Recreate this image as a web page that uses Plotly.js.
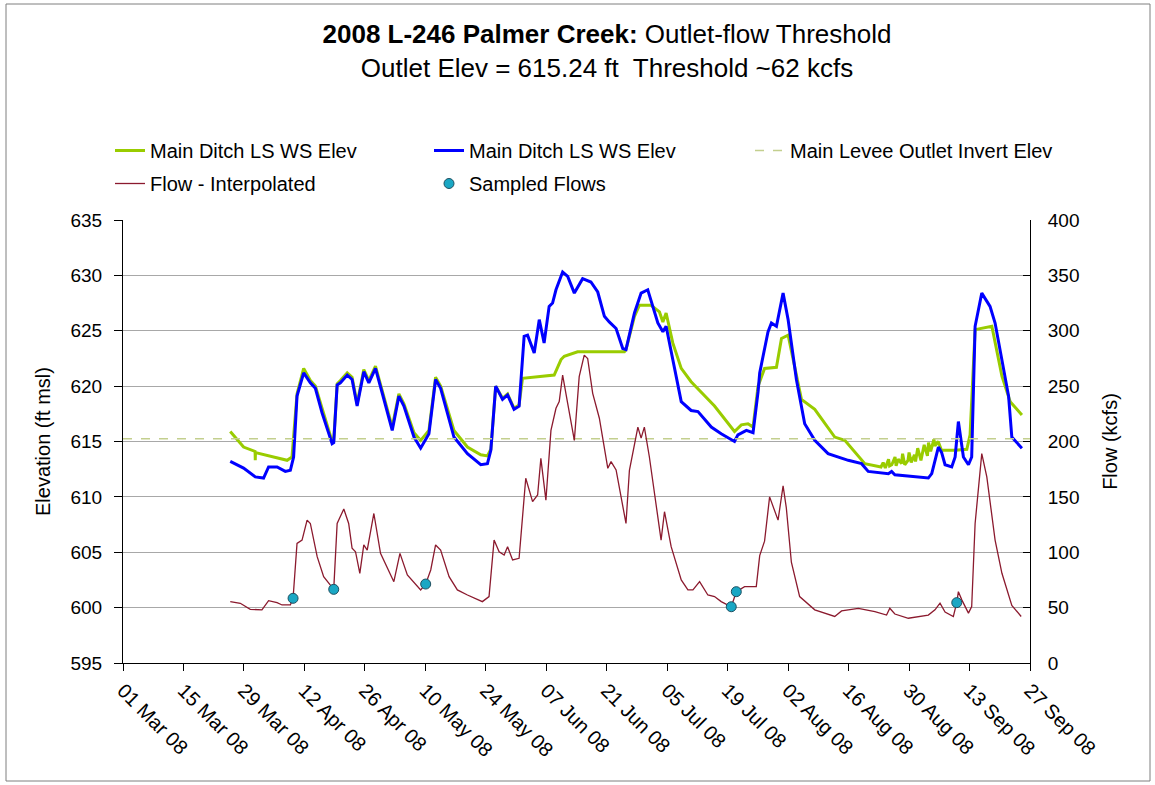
<!DOCTYPE html>
<html>
<head>
<meta charset="utf-8">
<script src="https://cdn.plot.ly/plotly-3.0.1.min.js"></script>
<style>html,body{margin:0;padding:0;background:#fff;}#chart{width:1155px;height:785px;}</style>
</head>
<body>
<div id="chart"></div>
<script>
// ---------- DATA ----------
const greenDates = [
"2008-03-25 20:00","2008-03-28 22:00","2008-03-31 14:00","2008-03-31 15:00","2008-03-31 16:00","2008-04-08 00:00","2008-04-09 03:00",
"2008-04-10 07:00","2008-04-11 20:00","2008-04-13 09:00","2008-04-14 13:00","2008-04-16 02:00","2008-04-18 10:00","2008-04-18 19:00",
"2008-04-19 14:00","2008-04-20 08:00","2008-04-21 22:00","2008-04-23 01:00","2008-04-24 05:00","2008-04-25 18:00","2008-04-26 22:00",
"2008-04-28 11:00","2008-04-30 00:00","2008-05-02 08:00","2008-05-03 21:00","2008-05-05 01:00","2008-05-07 09:00","2008-05-08 22:00",
"2008-05-10 20:00","2008-05-12 09:00","2008-05-13 13:00","2008-05-16 15:00","2008-05-19 18:00","2008-05-22 20:00","2008-05-24 09:00",
"2008-05-25 04:00","2008-05-26 07:00","2008-05-27 21:00","2008-05-29 01:00","2008-05-30 13:00","2008-05-31 17:00","2008-06-01 12:00",
"2008-06-08 20:00","2008-06-10 10:00","2008-06-11 04:00","2008-06-14 06:00","2008-06-25 02:00","2008-06-25 11:00","2008-06-27 10:00",
"2008-06-28 13:00","2008-07-01 06:00","2008-07-03 05:00","2008-07-04 00:00","2008-07-04 18:00","2008-07-06 07:00","2008-07-08 06:00",
"2008-07-10 13:00","2008-07-15 23:00","2008-07-20 14:00","2008-07-22 04:00","2008-07-23 17:00","2008-07-24 21:00","2008-07-26 01:00",
"2008-07-27 13:00","2008-07-30 07:00","2008-07-31 11:00","2008-08-02 00:00","2008-08-03 22:00","2008-08-05 02:00","2008-08-08 04:00",
"2008-08-12 19:00","2008-08-15 03:00","2008-08-19 18:00",
"2008-08-23 12:00","2008-08-24 00:00","2008-08-24 12:00","2008-08-25 06:00","2008-08-25 12:00","2008-08-26 00:00","2008-08-26 18:00",
"2008-08-27 00:00","2008-08-27 12:00","2008-08-28 06:00","2008-08-28 12:00","2008-08-29 00:00","2008-08-29 18:00","2008-08-30 00:00",
"2008-08-30 12:00","2008-08-31 06:00","2008-08-31 12:00","2008-09-01 00:00","2008-09-01 18:00","2008-09-02 00:00","2008-09-02 12:00",
"2008-09-03 06:00","2008-09-03 12:00","2008-09-04 00:00","2008-09-04 18:00","2008-09-05 00:00","2008-09-05 18:00","2008-09-06 12:00",
"2008-09-09 16:00","2008-09-12 09:00","2008-09-13 03:00","2008-09-14 07:00","2008-09-15 20:00","2008-09-18 04:00","2008-09-20 12:00",
"2008-09-22 10:00","2008-09-25 03:00"
];
const greenElev = [
615.9,614.5,614.1,613.3,614.0,613.3,613.6,
619.3,621.6,620.5,620.0,618.0,615.0,615.1,
620.2,620.5,621.2,620.8,618.4,621.5,620.5,
621.8,619.7,616.3,619.3,618.4,615.8,615.1,
616.0,620.8,620.0,616.0,614.5,613.8,613.7,
614.3,620.0,618.9,619.3,618.0,618.3,620.7,
621.0,622.4,622.7,623.1,623.1,623.3,626.3,
627.3,627.3,626.7,625.8,626.6,623.9,621.6,
620.4,618.2,615.9,616.5,616.6,616.3,620.0,
621.6,621.7,624.3,624.6,620.9,618.8,617.9,
615.4,615.1,613.0,
612.7,613.1,612.6,613.4,612.8,612.9,613.6,
612.8,613.4,613.0,613.9,612.9,613.3,614.0,
613.1,613.8,613.2,614.4,613.3,613.9,614.7,
613.7,614.9,614.1,615.2,614.6,615.0,614.2,
614.2,614.3,615.6,625.1,625.2,625.4,620.9,
618.6,617.4
];

const blueDates = [
"2008-03-25 20:00","2008-03-28 22:00","2008-03-31 15:00","2008-04-02 13:00","2008-04-03 17:00","2008-04-05 16:00","2008-04-07 14:00",
"2008-04-08 18:00","2008-04-09 12:00","2008-04-10 07:00","2008-04-11 20:00","2008-04-13 09:00","2008-04-14 13:00","2008-04-16 02:00",
"2008-04-18 10:00","2008-04-18 19:00","2008-04-19 14:00","2008-04-20 08:00","2008-04-21 22:00","2008-04-23 01:00","2008-04-24 05:00",
"2008-04-25 18:00","2008-04-26 22:00","2008-04-28 11:00","2008-04-30 00:00","2008-05-02 08:00","2008-05-03 21:00","2008-05-05 01:00",
"2008-05-07 09:00","2008-05-08 22:00","2008-05-10 20:00","2008-05-12 09:00","2008-05-13 13:00","2008-05-16 15:00","2008-05-19 18:00",
"2008-05-22 20:00","2008-05-24 09:00","2008-05-25 04:00","2008-05-26 07:00","2008-05-27 21:00","2008-05-29 01:00","2008-05-30 13:00",
"2008-05-31 17:00","2008-06-01 21:00","2008-06-02 16:00","2008-06-04 05:00","2008-06-05 09:00","2008-06-06 12:00","2008-06-07 16:00",
"2008-06-08 11:00","2008-06-09 06:00","2008-06-10 19:00","2008-06-11 23:00","2008-06-13 12:00","2008-06-15 10:00","2008-06-17 08:00",
"2008-06-18 22:00","2008-06-20 11:00","2008-06-21 14:00","2008-06-23 04:00","2008-06-24 17:00","2008-06-25 11:00","2008-06-27 10:00",
"2008-06-28 23:00","2008-06-30 12:00","2008-07-01 06:00","2008-07-02 20:00","2008-07-04 00:00","2008-07-04 18:00","2008-07-06 07:00",
"2008-07-08 06:00","2008-07-10 13:00","2008-07-12 03:00","2008-07-15 05:00","2008-07-17 12:00","2008-07-20 14:00","2008-07-21 09:00",
"2008-07-23 08:00","2008-07-24 21:00","2008-07-26 01:00","2008-07-26 10:00","2008-07-28 08:00","2008-07-29 03:00","2008-07-30 07:00",
"2008-07-31 20:00","2008-08-02 00:00","2008-08-03 22:00","2008-08-05 20:00","2008-08-08 04:00","2008-08-11 06:00","2008-08-15 22:00",
"2008-08-19 00:00","2008-08-20 13:00","2008-08-25 05:00","2008-08-25 23:00","2008-08-26 17:00","2008-08-31 09:00","2008-09-03 11:00",
"2008-09-04 06:00","2008-09-05 19:00","2008-09-06 13:00","2008-09-07 08:00","2008-09-08 21:00","2008-09-09 16:00","2008-09-10 10:00",
"2008-09-11 14:00","2008-09-12 18:00","2008-09-13 12:00","2008-09-14 07:00","2008-09-15 20:00","2008-09-17 18:00","2008-09-18 22:00",
"2008-09-22 01:00","2008-09-22 19:00","2008-09-25 03:00"
];
const blueElev = [
613.2,612.6,611.8,611.7,612.7,612.7,612.3,
612.4,613.6,619.1,621.2,620.3,619.8,617.6,
614.8,614.9,620.1,620.3,621.0,620.6,618.2,
621.3,620.3,621.6,619.4,616.0,619.1,618.2,
615.4,614.4,615.7,620.6,619.8,615.4,613.9,
612.9,613.0,614.2,620.0,618.8,619.2,617.9,
618.2,624.5,624.6,623.0,626.0,623.9,627.2,
627.5,628.7,630.3,629.9,628.4,629.7,629.4,
628.5,626.3,625.8,625.2,623.4,623.3,626.6,
628.4,628.7,627.8,625.7,624.9,625.4,622.4,
618.6,617.8,617.7,616.3,615.7,615.0,615.6,
616.0,615.8,619.5,621.2,624.9,625.7,625.4,
628.4,626.0,620.6,616.6,615.1,613.9,613.3,
613.0,612.3,612.1,612.3,612.0,611.8,611.7,
612.1,614.5,614.0,612.9,612.7,613.6,616.8,
613.6,612.9,613.6,625.4,628.4,627.2,625.7,
619.1,615.4,614.4
];

const outletDates = ["2008-03-01","2008-09-27"];
const outletElev = [615.24, 615.24];

const flowDates = [
"2008-03-25 20:00","2008-03-28 04:00","2008-03-30 11:00","2008-04-02 04:00","2008-04-03 17:00","2008-04-05 16:00","2008-04-06 20:00",
"2008-04-08 18:00","2008-04-09 09:00","2008-04-10 07:00","2008-04-11 11:00","2008-04-12 15:00","2008-04-13 09:00","2008-04-14 23:00",
"2008-04-16 11:00","2008-04-18 19:00","2008-04-19 14:00","2008-04-21 03:00","2008-04-22 06:00","2008-04-23 01:00","2008-04-23 20:00",
"2008-04-24 20:00","2008-04-25 18:00","2008-04-26 13:00","2008-04-28 02:00","2008-04-29 15:00","2008-05-02 17:00","2008-05-04 03:00",
"2008-05-05 20:00","2008-05-08 22:00","2008-05-10 02:00","2008-05-11 06:00","2008-05-12 09:00","2008-05-13 13:00","2008-05-15 12:00",
"2008-05-17 10:00","2008-05-19 18:00","2008-05-23 05:00","2008-05-24 18:00","2008-05-25 22:00","2008-05-27 02:00","2008-05-28 06:00",
"2008-05-29 01:00","2008-05-30 05:00","2008-05-31 17:00","2008-06-01 21:00","2008-06-02 06:00","2008-06-03 20:00","2008-06-05 00:00",
"2008-06-05 18:00","2008-06-06 22:00","2008-06-08 02:00","2008-06-09 06:00","2008-06-10 00:00","2008-06-10 19:00","2008-06-11 23:00",
"2008-06-13 12:00","2008-06-14 15:00","2008-06-15 19:00","2008-06-16 14:00","2008-06-17 18:00","2008-06-19 07:00","2008-06-21 06:00",
"2008-06-22 00:00","2008-06-23 04:00","2008-06-25 11:00","2008-06-26 06:00","2008-06-28 05:00","2008-06-28 23:00","2008-06-29 17:00",
"2008-06-30 21:00","2008-07-03 14:00","2008-07-04 09:00","2008-07-05 22:00","2008-07-08 06:00","2008-07-09 19:00","2008-07-10 23:00",
"2008-07-12 12:00","2008-07-14 10:00","2008-07-15 23:00","2008-07-17 12:00","2008-07-19 20:00","2008-07-21 00:00","2008-07-22 22:00",
"2008-07-25 15:00","2008-07-26 10:00","2008-07-27 13:00","2008-07-28 17:00","2008-07-30 16:00","2008-07-31 20:00","2008-08-01 14:00",
"2008-08-02 18:00","2008-08-04 16:00","2008-08-08 04:00","2008-08-12 19:00","2008-08-14 09:00","2008-08-18 06:00","2008-08-22 02:00",
"2008-08-24 19:00","2008-08-25 13:00","2008-08-26 17:00","2008-08-29 20:00","2008-09-03 11:00","2008-09-05 00:00","2008-09-06 04:00",
"2008-09-07 08:00","2008-09-09 06:00","2008-09-10 01:00","2008-09-10 10:00","2008-09-11 05:00","2008-09-12 18:00","2008-09-13 12:00",
"2008-09-14 07:00","2008-09-15 20:00","2008-09-17 00:00","2008-09-18 22:00","2008-09-20 12:00","2008-09-22 19:00","2008-09-24 23:00"
];
const flowValues = [
55.4,53.9,48.5,47.9,56.3,54.5,52.4,
52.4,58.4,108,111,129,126,96,
78,66.5,126,139,126,103.6,100.5,
81,106.6,102,135,99,73.4,99,
79.5,66,71.3,84,106.6,102,78,
66,61.4,55.4,60,111,100.5,97.5,
105,93,94.5,144,166.8,145.7,151.7,
184.8,147,210,230,236,260,234.5,
201,258.5,278,275,243.5,221,175.8,
181.8,174.3,126,174,213,203,213,
186,111,136.6,105,75,66,66,
73.4,61.4,60,55.4,50.8,64.4,69,
68.9,97,110,150,129,160,140,
91,60,48,42,47,49.4,46.3,
43.3,49.4,44.2,40.4,43.3,48,54,
46,42,54.5,64.4,57,45,51,
126,189,168,111,81,52,42
];

const sampledDates = ["2008-04-09 09:00","2008-04-18 19:00","2008-05-10 02:00","2008-07-19 20:00","2008-07-21 00:00","2008-09-10 01:00"];
const sampledFlows = [58.4, 66.5, 71.3, 50.8, 64.4, 54.5];

const xTickStart = "2008-03-01";
const xRange = ["2008-03-01", "2008-09-27"];
const elevRange = [595, 635];
const flowRange = [0, 400];

// ---------- CHART ----------
const W = 1155, H = 785, L = 123, R = 125, T = 220, B = 122;
const pw = W - L - R, ph = H - T - B;
const px = v => (v - L) / pw;
const py = v => (H - B - v) / ph;

const FONT = 'Liberation Sans, Arial, Helvetica, sans-serif';

const traces = [
  {x: greenDates, y: greenElev, type: 'scatter', mode: 'lines', name: 'Main Ditch LS WS Elev',
   line: {color: '#99CC00', width: 3}, yaxis: 'y', legend: 'legend'},
  {x: blueDates, y: blueElev, type: 'scatter', mode: 'lines', name: 'Main Ditch LS WS Elev',
   line: {color: '#0000FF', width: 3}, yaxis: 'y', legend: 'legend'},
  {x: outletDates, y: outletElev, type: 'scatter', mode: 'lines', name: 'Main Levee Outlet Invert Elev',
   line: {color: '#C3CF8E', width: 1.5, dash: 'dash'}, yaxis: 'y', legend: 'legend3'},
  {x: flowDates, y: flowValues, type: 'scatter', mode: 'lines', name: 'Flow - Interpolated',
   line: {color: '#8B1A2E', width: 1.3}, yaxis: 'y2', legend: 'legend2'},
  {x: sampledDates, y: sampledFlows, type: 'scatter', mode: 'markers', name: 'Sampled Flows',
   marker: {color: '#1AA7C4', size: 10, line: {color: '#1E4F60', width: 1}}, yaxis: 'y2', legend: 'legend2'}
];

const legendCommon = {
  orientation: 'h', xref: 'container', yref: 'container', xanchor: 'left', yanchor: 'top',
  entrywidth: 274, entrywidthmode: 'pixels',
  font: {family: FONT, size: 20, color: '#000'},
  bgcolor: 'rgba(0,0,0,0)', traceorder: 'normal'
};

const layout = {
  width: W, height: H,
  margin: {l: L, r: R, t: T, b: B},
  paper_bgcolor: '#ffffff', plot_bgcolor: '#ffffff',
  font: {family: FONT, color: '#000000', size: 18},
  showlegend: true,
  title: {
    text: '<b>2008 L-246 Palmer Creek:</b> Outlet-flow Threshold<br>Outlet Elev = 615.24 ft  Threshold ~62 kcfs',
    font: {family: FONT, size: 26, color: '#000'},
    xref: 'container', yref: 'container', x: 607 / W, xanchor: 'center', y: 1 - 43 / H, yanchor: 'top'
  },
  legend: Object.assign({}, legendCommon, {x: 110 / W, y: 1 - 131 / H}),
  legend3: Object.assign({}, legendCommon, {x: 750 / W, y: 1 - 131 / H}),
  legend2: Object.assign({}, legendCommon, {x: 110 / W, y: 1 - 164 / H}),
  xaxis: {
    type: 'date', range: xRange, tick0: xTickStart, dtick: 14 * 86400000,
    tickformat: '%d %b %y', tickangle: 45,
    showgrid: false, zeroline: false,
    showline: true, linecolor: '#000', linewidth: 1,
    ticks: 'outside', ticklen: 7, tickcolor: '#000',
    tickfont: {family: FONT, size: 20, color: '#000'}
  },
  yaxis: {
    range: elevRange, dtick: 5, tick0: 595,
    showgrid: true, gridcolor: '#A8A8A8', gridwidth: 1, zeroline: false,
    showline: true, linecolor: '#000', linewidth: 1,
    ticks: 'outside', ticklen: 8, tickcolor: '#000', ticklabelstandoff: 8,
    tickfont: {family: FONT, size: 19, color: '#000'},
    title: {text: 'Elevation (ft msl)', font: {family: FONT, size: 20, color: '#000'}, standoff: 14}
  },
  yaxis2: {
    range: flowRange, dtick: 50, tick0: 0,
    overlaying: 'y', side: 'right',
    showgrid: false, zeroline: false,
    showline: true, linecolor: '#000', linewidth: 1,
    ticks: 'inside', ticklen: 7, tickcolor: '#000', ticklabelstandoff: 13,
    tickfont: {family: FONT, size: 19, color: '#000'},
    title: {text: 'Flow (kcfs)', font: {family: FONT, size: 20, color: '#000'}, standoff: 24}
  },
  shapes: [
    {type: 'rect', xref: 'paper', yref: 'paper', x0: px(6), x1: px(1150), y0: py(781), y1: py(4),
     line: {color: '#7F7F7F', width: 1}, fillcolor: 'rgba(0,0,0,0)', layer: 'below'}
  ]
};

Plotly.newPlot('chart', traces, layout, {displayModeBar: false, staticPlot: true});
</script>
</body>
</html>
